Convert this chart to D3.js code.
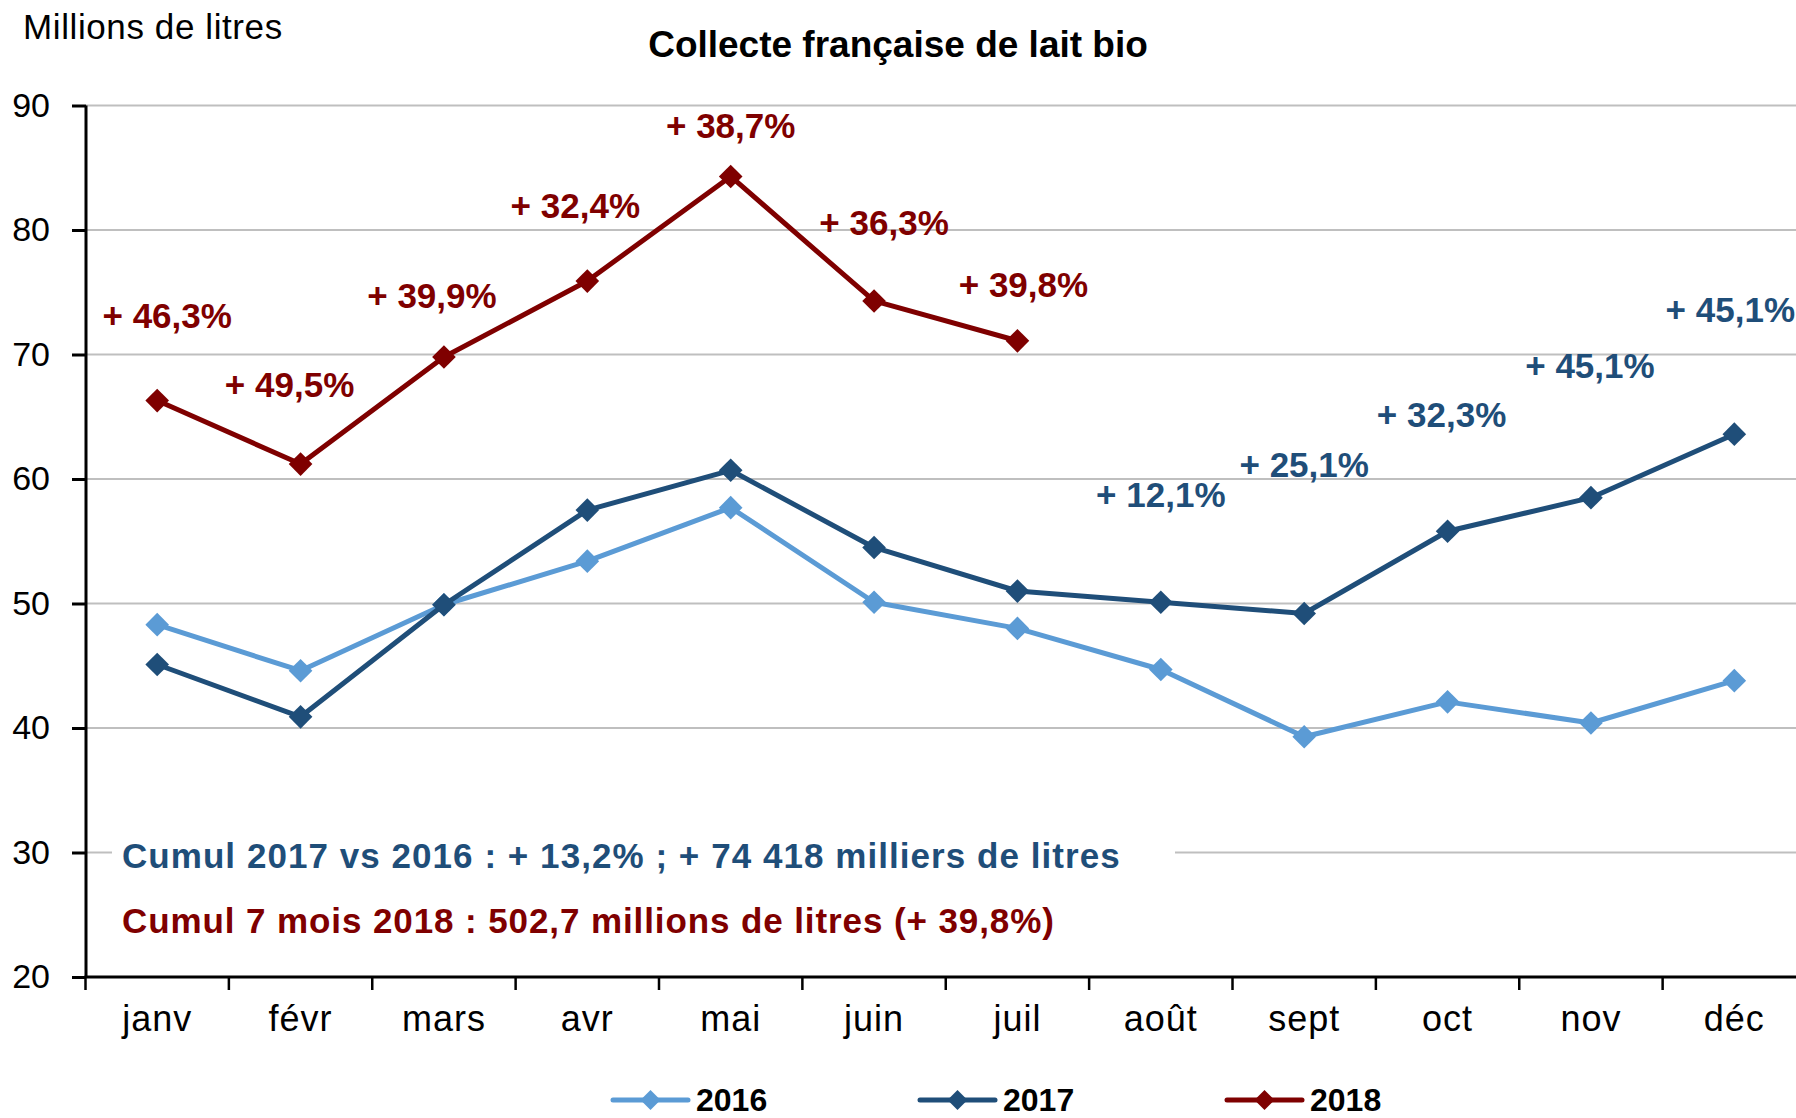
<!DOCTYPE html>
<html>
<head>
<meta charset="utf-8">
<script src="https://cdn.jsdelivr.net/npm/d3@7"></script>
<style>
  html, body { margin: 0; padding: 0; background: #fff; overflow: hidden; }
  svg { display: block; font-family: "Liberation Sans", Arial, sans-serif; }
</style>
</head>
<body>
<svg id="chart" width="1796" height="1118"></svg>
<script>
// ---------- DATA ----------
const months = ["janv", "févr", "mars", "avr", "mai", "juin", "juil", "août", "sept", "oct", "nov", "déc"];
const yTicks = [20, 30, 40, 50, 60, 70, 80, 90];
const values2016 = [48.3, 44.6, 49.9, 53.4, 57.7, 50.1, 48.0, 44.7, 39.3, 42.1, 40.4, 43.8];
const values2017 = [45.1, 40.9, 49.9, 57.5, 60.7, 54.5, 51.0, 50.1, 49.2, 55.8, 58.5, 63.6];
const values2018 = [66.3, 61.2, 69.8, 75.9, 84.3, 74.3, 71.1];
const labels2018 = ["+ 46,3%", "+ 49,5%", "+ 39,9%", "+ 32,4%", "+ 38,7%", "+ 36,3%", "+ 39,8%"];
const labels2017 = ["+ 12,1%", "+ 25,1%", "+ 32,3%", "+ 45,1%", "+ 45,1%"]; // août..déc
const labels2017Months = ["août", "sept", "oct", "nov", "déc"];
const seriesNames = ["2016", "2017", "2018"];
const titleText = "Collecte française de lait bio";
const yAxisTitle = "Millions de litres";
const cumulText2017 = "Cumul 2017 vs 2016 : + 13,2% ; + 74 418 milliers de litres";
const cumulText2018 = "Cumul 7 mois 2018 : 502,7 millions de litres (+ 39,8%)";

// ---------- LAYOUT (annotation placement, in data units / px offsets) ----------
const label2018Layout = [ {dx: 10, v: 72.1}, {dx: -11, v: 66.6}, {dx: -12, v: 73.7}, {dx: -12, v: 81.0},
                          {dx: 0, v: 87.4}, {dx: 10, v: 79.6}, {dx: 6, v: 74.6} ];
const label2017Layout = [ {dx: 0, v: 57.75}, {dx: 0, v: 60.2}, {dx: -6, v: 64.2}, {dx: -1, v: 68.1}, {dx: -4, v: 72.6} ];

const colors = { "2016": "#5b9bd5", "2017": "#1f4e79", "2018": "#7f0000" };

const svg = d3.select("#chart");

const x = d3.scaleBand().domain(months).range([85.5, 1806]).paddingInner(0).paddingOuter(0);
const cx = m => x(m) + x.bandwidth() / 2;
const y = d3.scaleLinear().domain([20, 90]).range([977, 105.5]);

// gridlines
svg.append("g").selectAll("line").data(yTicks.filter(t => t > 20)).join("line")
  .attr("x1", 86).attr("x2", 1796)
  .attr("y1", d => y(d)).attr("y2", d => y(d))
  .attr("stroke", "#bfbfbf").attr("stroke-width", 2.2);

// white box behind cumul text
svg.append("rect").attr("x", 112).attr("y", 832).attr("width", 1063).attr("height", 112).attr("fill", "#fff");

// y axis
const yAxis = d3.axisLeft(y).tickValues(yTicks).tickSize(14).tickPadding(22).tickFormat(d3.format("d"));
const gy = svg.append("g").attr("transform", "translate(86,0)").call(yAxis);
gy.select(".domain").attr("stroke", "#000").attr("stroke-width", 3).attr("d", `M0,${y(90)}V${y(20)}`);
gy.selectAll(".tick line").attr("stroke", "#000").attr("stroke-width", 3);
gy.selectAll(".tick text").attr("font-size", 34).attr("fill", "#000")
  .attr("font-family", "Liberation Sans, Arial, sans-serif");

// x axis labels
const xAxis = d3.axisBottom(x).tickSize(0).tickPadding(28.5);
const gx = svg.append("g").attr("transform", "translate(0,977)").call(xAxis);
gx.select(".domain").remove();
gx.selectAll(".tick text").attr("font-size", 36).attr("fill", "#000").attr("letter-spacing", 1)
  .attr("font-family", "Liberation Sans, Arial, sans-serif");
// x axis line + boundary ticks
svg.append("line").attr("x1", 84.5).attr("x2", 1796).attr("y1", 977).attr("y2", 977)
  .attr("stroke", "#000").attr("stroke-width", 3);
svg.append("g").selectAll("line").data(months).join("line")
  .attr("x1", d => x(d)).attr("x2", d => x(d))
  .attr("y1", 977).attr("y2", 990)
  .attr("stroke", "#000").attr("stroke-width", 2.5);

// series
const diamond = d3.symbol(d3.symbolSquare, 280);
const series = [
  { name: "2016", values: values2016 },
  { name: "2017", values: values2017 },
  { name: "2018", values: values2018 }
];
const line = d3.line().x((d, i) => cx(months[i])).y(d => y(d));
series.forEach(s => {
  const g = svg.append("g");
  g.append("path").attr("d", line(s.values)).attr("fill", "none")
    .attr("stroke", colors[s.name]).attr("stroke-width", 5).attr("stroke-linejoin", "round");
  g.selectAll("path.m").data(s.values).join("path").attr("class", "m")
    .attr("d", diamond)
    .attr("transform", (d, i) => `translate(${cx(months[i])},${y(d)}) rotate(45)`)
    .attr("fill", colors[s.name]);
});

// data labels
svg.append("g").selectAll("text").data(labels2018).join("text")
  .attr("x", (d, i) => cx(months[i]) + label2018Layout[i].dx)
  .attr("y", (d, i) => y(label2018Layout[i].v))
  .attr("text-anchor", "middle").attr("font-size", 35).attr("font-weight", "bold")
  .attr("fill", colors["2018"]).text(d => d);
svg.append("g").selectAll("text").data(labels2017).join("text")
  .attr("x", (d, i) => cx(labels2017Months[i]) + label2017Layout[i].dx)
  .attr("y", (d, i) => y(label2017Layout[i].v))
  .attr("text-anchor", "middle").attr("font-size", 35).attr("font-weight", "bold")
  .attr("fill", colors["2017"]).text(d => d);

// cumul texts
svg.append("text").attr("x", 122).attr("y", 868).attr("font-size", 35).attr("font-weight", "bold")
  .attr("letter-spacing", 1.05).attr("fill", colors["2017"]).text(cumulText2017);
svg.append("text").attr("x", 122).attr("y", 933).attr("font-size", 35).attr("font-weight", "bold")
  .attr("letter-spacing", 0.9).attr("fill", colors["2018"]).text(cumulText2018);

// titles
svg.append("text").attr("x", 898).attr("y", 57).attr("text-anchor", "middle")
  .attr("font-size", 37).attr("font-weight", "bold").attr("fill", "#000").text(titleText);
svg.append("text").attr("x", 23).attr("y", 39).attr("font-size", 35).attr("fill", "#000")
  .attr("letter-spacing", 0.6).text(yAxisTitle);

// legend
const legendX = [613, 920, 1227];
const lg = svg.append("g").selectAll("g").data(seriesNames).join("g")
  .attr("transform", (d, i) => `translate(${legendX[i]},1100)`);
lg.append("line").attr("x1", 0).attr("x2", 75).attr("y1", 0).attr("y2", 0)
  .attr("stroke", d => colors[d]).attr("stroke-width", 5).attr("stroke-linecap", "round");
lg.append("path").attr("d", d3.symbol(d3.symbolSquare, 200))
  .attr("transform", "translate(37.5,0) rotate(45)").attr("fill", d => colors[d]);
lg.append("text").attr("x", 83).attr("y", 11).attr("font-size", 32).attr("font-weight", "bold")
  .attr("fill", "#000").text(d => d);
</script>
</body>
</html>
